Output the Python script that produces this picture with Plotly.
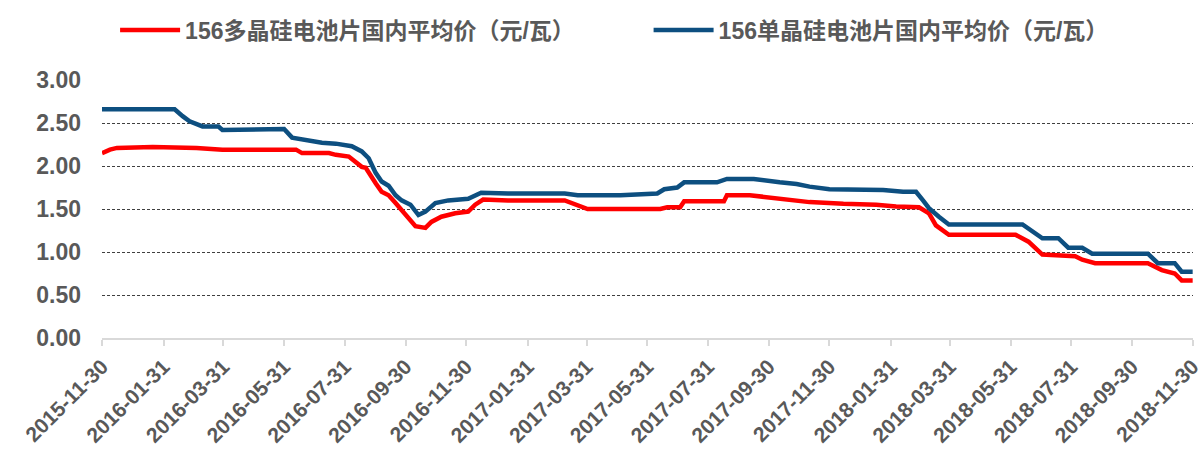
import plotly.graph_objects as go

# 156 mono-crystalline cell domestic average price (yuan/W)
mono_dates = [
    "2015-11-30", "2016-02-11", "2016-02-19", "2016-02-26", "2016-03-10", "2016-03-26",
    "2016-03-30", "2016-05-26", "2016-05-31", "2016-06-08", "2016-06-22", "2016-07-08",
    "2016-07-22", "2016-08-07", "2016-08-17", "2016-08-24", "2016-08-31", "2016-09-06",
    "2016-09-13", "2016-09-20", "2016-09-26", "2016-10-05", "2016-10-13", "2016-10-20",
    "2016-10-30", "2016-11-12", "2016-12-02", "2016-12-15", "2017-01-11", "2017-03-09",
    "2017-03-22", "2017-05-04", "2017-06-10", "2017-06-17", "2017-06-30", "2017-07-07",
    "2017-08-09", "2017-08-19", "2017-09-15", "2017-09-25", "2017-10-11", "2017-10-28",
    "2017-11-10", "2017-11-30", "2018-01-23", "2018-02-12", "2018-02-25", "2018-03-04",
    "2018-03-10", "2018-03-20", "2018-03-30", "2018-06-12", "2018-06-22", "2018-07-02",
    "2018-07-18", "2018-07-28", "2018-08-11", "2018-08-21", "2018-10-16", "2018-10-26",
    "2018-11-12", "2018-11-19", "2018-11-30",
]
mono_values = [
    2.66, 2.66, 2.58, 2.52, 2.46, 2.46,
    2.42, 2.42, 2.43, 2.33, 2.30, 2.27,
    2.26, 2.23, 2.17, 2.09, 1.92, 1.82,
    1.77, 1.66, 1.60, 1.55, 1.43, 1.47,
    1.57, 1.60, 1.62, 1.69, 1.68, 1.68,
    1.66, 1.66, 1.68, 1.73, 1.75, 1.81,
    1.81, 1.85, 1.85, 1.83, 1.81, 1.79,
    1.76, 1.73, 1.72, 1.70, 1.70, 1.60,
    1.51, 1.41, 1.32, 1.32, 1.24, 1.16,
    1.16, 1.05, 1.05, 0.98, 0.98, 0.87,
    0.87, 0.77, 0.77,
]

# 156 multi-crystalline cell domestic average price (yuan/W)
multi_dates = [
    "2015-11-30", "2015-12-08", "2015-12-15", "2016-01-20", "2016-03-04", "2016-03-30",
    "2016-06-12", "2016-06-18", "2016-07-15", "2016-07-22", "2016-08-04", "2016-08-11",
    "2016-08-17", "2016-08-21", "2016-08-26", "2016-08-31", "2016-09-06", "2016-09-13",
    "2016-09-20", "2016-09-30", "2016-10-10", "2016-10-20", "2016-10-26", "2016-11-05",
    "2016-11-19", "2016-12-02", "2016-12-09", "2016-12-17", "2017-01-11", "2017-03-09",
    "2017-03-22", "2017-04-01", "2017-06-13", "2017-06-20", "2017-07-03", "2017-07-07",
    "2017-08-16", "2017-08-19", "2017-09-11", "2017-09-25", "2017-10-11", "2017-10-28",
    "2017-11-10", "2017-12-14", "2018-01-16", "2018-02-05", "2018-02-28", "2018-03-10",
    "2018-03-17", "2018-03-30", "2018-06-05", "2018-06-18", "2018-07-02", "2018-08-04",
    "2018-08-11", "2018-08-24", "2018-10-16", "2018-10-30", "2018-11-12", "2018-11-19",
    "2018-11-30",
]
multi_values = [
    2.15, 2.19, 2.21, 2.22, 2.21, 2.19,
    2.19, 2.15, 2.15, 2.13, 2.11, 2.05,
    1.99, 1.98, 1.88, 1.80, 1.70, 1.66,
    1.57, 1.43, 1.30, 1.28, 1.35, 1.41,
    1.45, 1.47, 1.55, 1.61, 1.60, 1.60,
    1.55, 1.50, 1.50, 1.52, 1.52, 1.59,
    1.59, 1.66, 1.66, 1.64, 1.62, 1.60,
    1.58, 1.56, 1.55, 1.53, 1.52, 1.45,
    1.31, 1.20, 1.20, 1.12, 0.97, 0.95,
    0.91, 0.87, 0.87, 0.79, 0.75, 0.67,
    0.67,
]

tick_dates = [
    "2015-11-30", "2016-01-31", "2016-03-31", "2016-05-31", "2016-07-31", "2016-09-30",
    "2016-11-30", "2017-01-31", "2017-03-31", "2017-05-31", "2017-07-31", "2017-09-30",
    "2017-11-30", "2018-01-31", "2018-03-31", "2018-05-31", "2018-07-31", "2018-09-30",
    "2018-11-30",
]
y_ticks = [0, 0.5, 1.0, 1.5, 2.0, 2.5, 3.0]
y_tick_labels = ["0.00", "0.50", "1.00", "1.50", "2.00", "2.50", "3.00"]

name_multi = "156多晶硅电池片国内平均价（元/瓦）"
name_mono = "156单晶硅电池片国内平均价（元/瓦）"

FONT = "Liberation Sans, Arial, Noto Sans CJK SC, sans-serif"
GRAY = "#595959"

fig = go.Figure()
fig.add_trace(go.Scatter(x=multi_dates, y=multi_values, name=name_multi, mode="lines",
                         line=dict(color="#FF0000", width=4.5), legend="legend"))
fig.add_trace(go.Scatter(x=mono_dates, y=mono_values, name=name_mono, mode="lines",
                         line=dict(color="#0D4F80", width=4.5), legend="legend2"))

legend_common = dict(orientation="h", yanchor="middle", y=1.194, xanchor="left",
                     font=dict(size=23, color=GRAY, family=FONT, weight="bold"),
                     bgcolor="rgba(0,0,0,0)", itemwidth=60)

fig.update_layout(
    width=1202, height=453,
    margin=dict(l=102, r=9, t=80, b=115, autoexpand=False),
    paper_bgcolor="white", plot_bgcolor="white",
    font=dict(family=FONT, color=GRAY),
    showlegend=True,
    legend=dict(x=0.012, **legend_common),
    legend2=dict(x=0.501, **legend_common),
)
fig.update_xaxes(
    type="date", range=["2015-11-30", "2018-11-30 08:00"],
    tickvals=tick_dates, ticktext=tick_dates, tickangle=-45,
    tickfont=dict(size=21, color=GRAY, family=FONT, weight="bold"),
    showgrid=False, showline=True, linecolor="#D9D9D9", linewidth=2,
    ticks="outside", ticklen=6, tickcolor="#D9D9D9", tickwidth=2,
    zeroline=False, automargin=False, ticklabeloverflow="allow",
)
fig.update_yaxes(
    range=[0, 3.0], tickvals=y_ticks, ticktext=y_tick_labels,
    tickfont=dict(size=23, color=GRAY, family=FONT, weight="bold"),
    showgrid=True, gridcolor="#404040", gridwidth=1, griddash="3px,2px",
    zeroline=False, showline=False, ticks="", ticklabelstandoff=20,
    automargin=False,
)

fig.write_html("out.html", config={"displayModeBar": False},
               post_script="document.body.style.margin='0';")
